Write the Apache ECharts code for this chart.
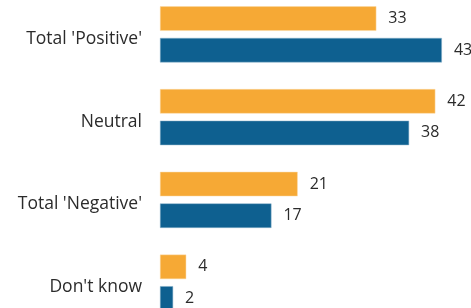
<!DOCTYPE html>
<html>
<head>
<meta charset="utf-8">
<script src="https://cdn.jsdelivr.net/npm/echarts@6/dist/echarts.min.js"></script>
<style>
    html, body { margin: 0; padding: 0; background: #fff; overflow: hidden; }
    body { width: 471px; height: 308px; position: relative; }
    /* chart is a bit taller than the window: the last bar is cut off at the bottom */
    #chart { position: absolute; left: 0; top: -7px; width: 471px; height: 331px; }
</style>
</head>
<body>
<div id="chart"></div>
<script>
    // categories and the two series (orange on top, blue below)
    var categories = ["Total 'Positive'", 'Neutral', "Total 'Negative'", "Don't know"];
    var orangeValues = [33, 42, 21, 4];
    var blueValues = [43, 38, 17, 2];

    var myChart = echarts.init(document.getElementById('chart'));

    var labelStyle = {
        show: true,
        position: 'right',
        distance: 12,
        color: '#2b2b2b',
        fontSize: 16,
        fontFamily: 'Open Sans'
    };

    var option = {
        animation: false,
        grid: {
            left: 160,
            right: 16,
            top: 0,
            bottom: 0
        },
        xAxis: {
            type: 'value',
            min: 0,
            max: 45,
            show: false
        },
        yAxis: {
            type: 'category',
            inverse: true,
            data: categories,
            axisLine: { show: false },
            axisTick: { show: false },
            axisLabel: {
                margin: 18,
                formatter: function (v) {
                    return '{c|' + v + '}';
                },
                rich: {
                    // category names sit a little below the middle of each pair
                    c: {
                        color: '#2b2b2b',
                        fontSize: 17.5,
                        fontFamily: 'Open Sans',
                        padding: [9, 0, 0, 0]
                    }
                }
            }
        },
        series: [
            {
                type: 'bar',
                data: orangeValues,
                barWidth: 24.5,
                barGap: '29%',
                itemStyle: { color: '#F6A935', borderColor: '#FBD9A6', borderWidth: 0.5 },
                label: labelStyle
            },
            {
                type: 'bar',
                data: blueValues,
                barWidth: 24.5,
                itemStyle: { color: '#0E6090', borderColor: '#8FB5CC', borderWidth: 0.5 },
                label: labelStyle
            }
        ]
    };
    myChart.setOption(option);
</script>
</body>
</html>
